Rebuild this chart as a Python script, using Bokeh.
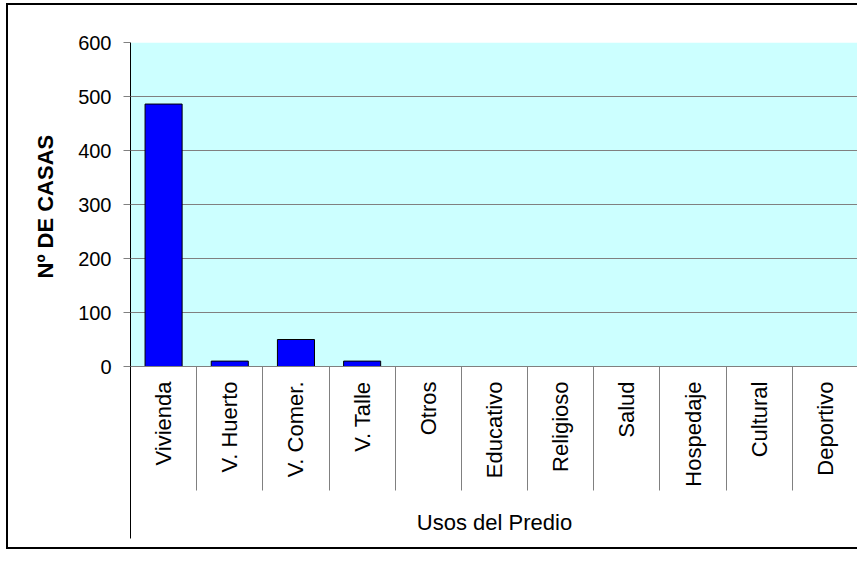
import math
import numpy as np
from bokeh.plotting import figure
from bokeh.models import Range1d, FixedTicker, BoxAnnotation, Span, ColumnDataSource, Title
from bokeh.embed import file_html
from bokeh.resources import INLINE

# ---- data ----
categories = ["Vivienda", "V. Huerto", "V. Comer.", "V. Talle", "Otros", "Educativo",
              "Religioso", "Salud", "Hospedaje", "Cultural", "Deportivo"]
casas = [486, 10, 50, 10, 0, 0, 0, 0, 0, 0, 0]
y_ticks = [0, 100, 200, 300, 400, 500, 600]
x_title = "Usos del Predio"
y_title = "Nº DE CASAS"

FONT = "Liberation Sans"
GRAY = "#808080"

n = len(categories)
idx = list(range(n))
source = ColumnDataSource(dict(x=idx, cat=categories, casas=casas))

y_max = y_ticks[-1]
band_frac = 172 / 324          # height of category band relative to value area
y_min = -y_max * band_frac

p = figure(width=851, height=546, output_backend="svg", toolbar_location=None,
           x_range=Range1d(-0.5, n - 0.5), y_range=Range1d(y_min, y_max),
           min_border_left=122, min_border_top=37, min_border_right=1,
           min_border_bottom=13)
p.styles = {"border-left": "2px solid black", "border-top": "2px solid black",
            "border-bottom": "2px solid black", "margin": "3px 0px 0px 6px"}

p.background_fill_color = "white"
p.border_fill_color = "white"
p.outline_line_color = None

# value-area background
p.add_layout(BoxAnnotation(bottom=0, fill_color="#CCFFFF", fill_alpha=1,
                           line_color=None, level="image"))

# bars
p.vbar(x="x", top="casas", width=0.56, source=source, fill_color="#0000FF",
       line_color="black", line_width=1)

# right edge line of plot area
p.add_layout(Span(location=n - 0.5, dimension="height", line_color=GRAY, line_width=1))

# y axis
yax = p.yaxis[0]
yax.ticker = FixedTicker(ticks=y_ticks)
yax.major_tick_in = 0
yax.major_tick_out = 7
yax.major_tick_line_color = GRAY
yax.minor_tick_line_color = None
yax.axis_line_color = "black"
yax.major_label_standoff = 12
yax.major_label_text_font = FONT
yax.major_label_text_font_size = "20px"
yax.major_label_text_color = "black"

# y title, placed alongside the value area (offset up from the frame bottom)
ytitle = Title(text=y_title, align="left", offset=260, text_font=FONT,
               text_font_size="22px", text_font_style="bold", text_color="black")
if "standoff" in Title.properties():
    ytitle.standoff = 35
p.add_layout(ytitle, "left")

p.ygrid.grid_line_color = GRAY
p.ygrid.grid_line_width = 1
p.xgrid.visible = False

# x axis (category axis at value 0)
SEP = 124
xax = p.xaxis[0]
xax.fixed_location = 0
xax.ticker = FixedTicker(ticks=idx, minor_ticks=[i + 0.5 for i in idx[:-1]])
xax.major_label_overrides = {i: c for i, c in enumerate(categories)}
xax.major_tick_in = 0
xax.major_tick_out = 0
xax.major_tick_line_color = None
xax.minor_tick_in = 0
xax.minor_tick_out = SEP
xax.minor_tick_line_color = GRAY
xax.axis_line_color = GRAY
xax.major_label_orientation = math.pi / 2
xax.major_label_standoff = 15 - SEP
xax.major_label_text_font = FONT
xax.major_label_text_font_size = "22px"
xax.major_label_text_color = "black"
xax.axis_label = x_title
xax.axis_label_text_font = FONT
xax.axis_label_text_font_size = "22px"
xax.axis_label_text_font_style = "normal"
xax.axis_label_text_color = "black"
xax.axis_label_standoff = 20

open("out.html", "w").write(file_html(p, INLINE))
